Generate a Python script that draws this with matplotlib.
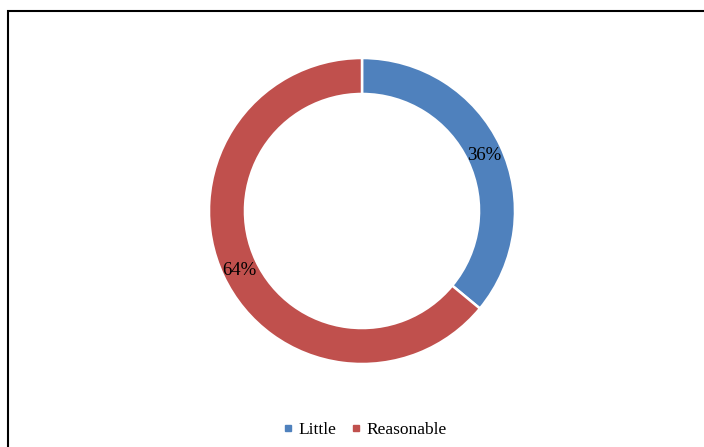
import matplotlib.pyplot as plt
from matplotlib.lines import Line2D
from matplotlib.patches import Rectangle

# Share of responses
categories = ['Little', 'Reasonable']
shares = [36, 64]
colors = ['#4F81BD', '#C0504D']

plt.rcParams['font.family'] = ['Liberation Serif', 'DejaVu Serif']

W, H = 704, 447
fig = plt.figure(figsize=(W / 100, H / 100), dpi=100)

# donut centre ~(362, 211) px, outer radius ~153 px
cx, cy, r = 362, 211, 153
ax = fig.add_axes([(cx - r) / W, (H - cy - r) / H, 2 * r / W, 2 * r / H])

ring = 0.235
wedges, texts, autotexts = ax.pie(
    shares, colors=colors, startangle=90, counterclock=False, radius=1,
    wedgeprops=dict(width=ring, edgecolor='white', linewidth=1.8),
    autopct='%1.0f%%', pctdistance=1 - ring / 2,
    textprops=dict(fontsize=13.5, color='black'))
for t in autotexts:
    t.set_va('center_baseline')
ax.set_xlim(-1, 1)
ax.set_ylim(-1, 1)
ax.set_aspect('equal')
ax.axis('off')

# outer frame (only left and top edges visible in the crop)
fig.patches.append(Rectangle((8 / W, -0.1), 1.2, 1 - 11 / H + 0.1,
                             transform=fig.transFigure, fill=False,
                             edgecolor='black', linewidth=1.5))

handles = [Line2D([], [], marker='s', linestyle='none', markersize=4.5,
                  markerfacecolor=c, markeredgecolor=c) for c in colors]
fig.legend(handles, categories, loc='center', bbox_to_anchor=(365 / W, 1 - 430 / H),
           ncol=2, frameon=False, fontsize=12.5, handlelength=0.5,
           handletextpad=0.35, columnspacing=0.9)

fig.savefig('out.png', dpi=100, facecolor='white')
